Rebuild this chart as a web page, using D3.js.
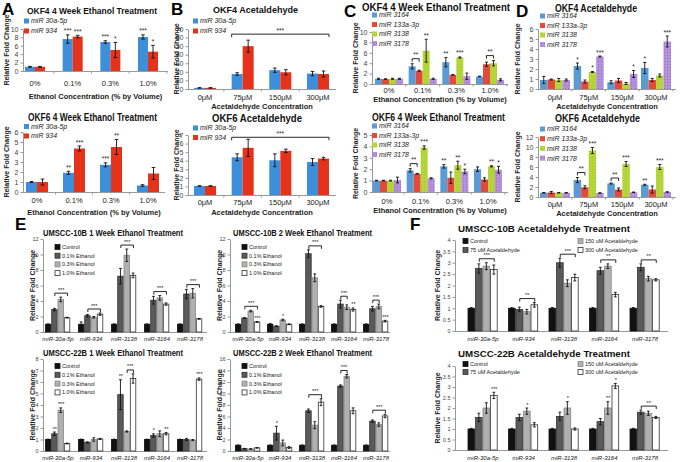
<!DOCTYPE html>
<html><head><meta charset="utf-8">
<script src="https://cdn.jsdelivr.net/npm/d3@7"></script>
<style>body{margin:0;background:#fff}svg{display:block;font-family:"Liberation Sans",Arial,sans-serif}</style>
</head><body><svg id="c" width="685" height="462"></svg>
<script>
// ---------- categories / labels ----------
const ethCats = ["0%","0.1%","0.3%","1.0%"];
const acetCats = ["0μM","75μM","150μM","300μM"];
const miRsAB = ["miR 30a-5p","miR 934"];
const miRsCD = ["miR 3164","miR 133a-3p","miR 3138","miR 3178"];
const miRsEF = ["miR-30a-5p","miR-934","miR-3138","miR-3164","miR-3178"];
const ethLegend = ["Control","0.1% Ethanol","0.3% Ethanol","1.0% Ethanol"];
const acetLegend = ["Control","75 uM Acetaldehyde","150 uM Acetaldehyde","300 uM Acetaldehyde"];

// ---------- A ----------
const okf4EthMean = [[1.0,7.6,6.9,8.1],[1.0,8.2,5.0,4.6]];
const okf4EthErr  = [[0.1,1.0,0.3,0.5],[0.1,0.3,1.8,1.5]];
const okf4EthStars = [[1,0,"***"],[1,1,"***"],[2,0,"***"],[2,1,"*"],[3,0,"***"],[3,1,"*"]];
const okf6EthMean = [[1.0,1.92,2.72,0.65],[1.0,4.35,4.5,1.85]];
const okf6EthErr  = [[0.05,0.15,0.2,0.08],[0.3,0.25,0.75,0.6]];
const okf6EthStars = [[1,0,"**"],[1,1,"***"],[2,0,"***"],[2,1,"**"]];
// ---------- B ----------
const okf4AcMean = [[1.3,17.5,22,18],[1.3,50,19.5,17.5]];
const okf4AcErr  = [[0.2,1.5,2.5,2.5],[0.2,7,3,3.5]];
const okf6AcMean = [[1.05,4.4,4.05,3.85],[1.05,5.5,5.15,4.25]];
const okf6AcErr  = [[0.03,0.4,0.75,0.4],[0.03,1.0,0.2,0.15]];
// ---------- C ----------
const okf4Eth4Mean = [[1.0,3.4,4.2,1.45],[0.95,2.55,1.75,3.8],[1.0,6.4,5.1,4.0],[1.0,1.0,1.5,0.8]];
const okf4Eth4Err  = [[0.1,0.5,0.9,0.05],[0.05,0.1,0.05,0.4],[0.1,2.2,0.1,0.5],[0.1,0.1,0.6,0.2]];
const okf4Eth4Stars = [[1,2,"**"],[2,0,"**"],[2,2,"***"]];
const okf4Eth4Br = [[1,0,1,1,"**"],[3,1,3,2,"**"]];
const okf6Eth4Mean = [[1.0,1.9,2.25,2.0],[1.0,1.6,1.25,1.1],[1.0,3.9,2.35,2.25],[1.05,1.2,1.8,1.95]];
const okf6Eth4Err  = [[0.03,0.15,0.15,0.2],[0.03,0.03,0.5,0.15],[0.03,0.15,0.35,0.05],[0.25,0.05,0.2,0.3]];
const okf6Eth4Stars = [[1,2,"***"],[2,0,"**"],[2,2,"**"],[2,3,"*"],[3,2,"**"],[3,3,"*"]];
const okf6Eth4Br = [[1,0,1,1,"**"]];
// ---------- D ----------
const okf4Ac4Mean = [[0.9,2.3,0.68,2.1],[0.95,0.75,0.85,0.9],[0.9,1.7,0.55,1.35],[0.9,3.25,1.5,4.75]];
const okf4Ac4Err  = [[0.35,0.3,0.15,0.55],[0.05,0.15,0.2,0.15],[0.15,0.05,0.1,0.15],[0.1,0.05,0.35,0.55]];
const okf4Ac4Stars = [[1,0,"*"],[1,2,"*"],[1,3,"***"],[2,3,"*"],[3,0,"*"],[3,3,"***"]];
const okf6Ac4Mean = [[0.85,3.4,2.7,2.45],[0.9,1.95,1.5,1.5],[0.85,9.3,6.6,6.0],[0.85,0.8,0.95,1.0]];
const okf6Ac4Err  = [[0.05,0.5,0.1,0.1],[0.2,0.3,0.3,0.7],[0.05,0.6,0.5,0.5],[0.05,0.05,0.05,0.05]];
const okf6Ac4Stars = [[1,2,"***"],[2,2,"***"],[3,0,"**"],[3,2,"***"]];
const okf6Ac4Br = [[1,0,1,1,"**"],[2,0,2,1,"**"]];
// ---------- E ----------
const u10b1Mean = [[1,1,1,1,1],[2.9,2.1,7.2,4.1,4.9],[4.2,1.9,9.9,4.4,5.0],[1.85,2.3,7.3,3.6,1.7]];
const u10b1Err  = [[0.05,0.3,0.05,0.05,0.05],[0.15,0.15,1.0,0.5,0.6],[0.3,0.1,0.8,0.3,0.6],[0.05,0.15,0.3,0.15,0.05]];
const u10b1Br = [[0,1,0,3,"***"],[1,1,1,3,"***"],[2,1,2,3,"***"],[3,1,3,3,"***"],[4,1,4,3,"***"]];
const u10b2Mean = [[1,1,1,1,1],[1.8,0.75,10.1,3.6,3.0],[2.7,1.55,7.0,3.2,3.3],[1.3,1.0,3.3,2.9,1.4]];
const u10b2Err  = [[0.05,0.1,0.05,0.05,0.05],[0.05,0.05,0.5,0.5,0.3],[0.1,0.1,0.5,0.3,0.3],[0.05,0.05,0.1,0.2,0.1]];
const u10b2Stars = [[0,3,"***"],[1,2,"*"],[3,3,"**"],[4,3,"***"]];
const u10b2Br = [[0,1,0,3,"***"],[2,1,2,3,"***"],[3,1,3,2,"***"],[4,1,4,2,"***"]];
const u22b1Mean = [[1,1,1,1,1],[1.5,0.75,4.9,1.35,1.0],[3.55,1.0,1.7,1.5,0.95],[0.65,1.05,6.3,1.5,6.25]];
const u22b1Err  = [[0.03,0.03,0.03,0.03,0.03],[0.15,0.05,1.3,0.15,0.1],[0.2,0.15,0.05,0.25,0.05],[0.03,0.05,0.4,0.1,0.1]];
const u22b1Stars = [[0,1,"**"],[0,2,"***"],[2,1,"**"],[3,1,"*"],[3,3,"**"],[4,3,"***"]];
const u22b1Br = [[2,2,2,3,"***"]];
const u22b2Mean = [[1,1,1,1,1],[0.4,3.1,7.0,11.3,5.2],[0.35,1.4,4.5,13.0,4.6],[0.55,0.6,8.5,7.0,6.1]];
const u22b2Err  = [[0.05,0.05,0.05,0.05,0.05],[0.05,1.2,0.3,0.2,0.2],[0.05,0.5,0.6,0.3,0.3],[0.05,0.15,0.6,0.5,0.3]];
const u22b2Stars = [[1,1,"*"]];
const u22b2Br = [[2,1,2,3,"***"],[3,1,3,2,"***"],[4,1,4,3,"***"]];
// ---------- F ----------
const u10bAcMean = [[1,1,1,1,1],[2.75,0.95,3.0,2.65,2.8],[2.85,0.85,2.1,2.85,2.3],[2.7,1.15,2.35,1.6,2.25]];
const u10bAcErr  = [[0.03,0.03,0.03,0.03,0.03],[0.2,0.1,0.2,0.15,0.15],[0.15,0.1,0.15,0.1,0.1],[0.2,0.1,0.15,0.1,0.05]];
const u10bAcBr = [[0,1,0,3,"***"],[1,1,1,3,"**"],[2,1,2,3,"***"],[3,1,3,3,"**"],[4,1,4,3,"**"]];
const u22bAcMean = [[1,1,1,1,1],[1.55,1.55,1.6,1.35,1.8],[2.0,1.85,2.0,2.0,1.75],[2.6,1.2,1.0,3.05,1.55]];
const u22bAcErr  = [[0.03,0.03,0.03,0.03,0.03],[0.2,0.15,0.2,0.15,0.1],[0.25,0.15,0.3,0.3,0.1],[0.15,0.1,0.05,0.12,0.05]];
const u22bAcStars = [[0,3,"***"],[1,2,"*"],[2,2,"*"],[3,2,"**"],[3,3,"*"]];
const u22bAcBr = [[4,1,4,3,"**"]];

// ---------- styles ----------
const svg = d3.select("#c");
const defs = svg.append("defs");
const pat = defs.append("pattern").attr("id","dotsP").attr("width",3).attr("height",3).attr("patternUnits","userSpaceOnUse");
pat.append("rect").attr("width",3).attr("height",3).attr("fill","#b590dc");
pat.append("circle").attr("cx",1.5).attr("cy",1.5).attr("r",0.5).attr("fill","#8a62b8");
const patG = defs.append("pattern").attr("id","dotsG").attr("width",3).attr("height",3).attr("patternUnits","userSpaceOnUse");
patG.append("rect").attr("width",3).attr("height",3).attr("fill","#b5d53a");
patG.append("circle").attr("cx",1.5).attr("cy",1.5).attr("r",0.45).attr("fill","#98b826");

const abColors = ["#3d8fd9","#e4321b"];
const cdColors = ["#5b9bd5","#e24a3b","url(#dotsG)","url(#dotsP)"];
const efColors = ["#111111","#5a5a5a","#b0b0b0","#ffffff"];
const efStrokes = ["#111","#333","#888","#333"];

function drawPanel(p){
  const g = svg.append("g");
  const n = p.cats.length, S = p.mean.length;
  const step = (p.cN - p.c0)/(n-1);
  const x = d3.scaleBand().domain(p.cats).range([p.c0-step/2, p.cN+step/2]);
  const xs = d3.scaleBand().domain(d3.range(S)).range([-S*p.barW/2, S*p.barW/2]);
  const y = d3.scaleLinear().domain([0,p.yMax]).range([p.yBot,p.yTop]);
  const bx = (gi,s)=> x(p.cats[gi]) + x.bandwidth()/2 + xs(s);
  const ya = g.append("g").attr("transform",`translate(${p.x0},0)`)
    .call(d3.axisLeft(y).tickValues(d3.range(0,p.yMax+1e-9,p.yStep)).tickSize(2.5).tickSizeOuter(0).tickPadding(2).tickFormat(d3.format("")));
  ya.select(".domain").attr("stroke","#999");
  ya.selectAll(".tick line").attr("stroke","#999");
  ya.selectAll("text").attr("font-size",p.tick).attr("fill","#444").attr("font-family","Liberation Sans, Arial, sans-serif");
  g.append("line").attr("x1",p.x0).attr("x2",p.x1).attr("y1",p.yBot+0.5).attr("y2",p.yBot+0.5).attr("stroke","#999");
  if(p.xTicks){
    const edges = p.cats.map(c=>x(c)).concat([x(p.cats[n-1])+x.bandwidth()]).filter(v=>v>p.x0+2 && v<p.x1);
    g.selectAll(null).data(edges).join("line").attr("x1",d=>d).attr("x2",d=>d)
      .attr("y1",p.yBot).attr("y2",p.yBot+2.5).attr("stroke","#999");
  }
  const xa = g.append("g").attr("transform",`translate(0,${p.yBot})`).call(d3.axisBottom(x).tickSize(0));
  xa.select(".domain").remove();
  xa.selectAll("text").attr("y",p.xLabY-p.yBot).attr("dy",null).attr("font-size",p.xLabSize)
    .attr("fill","#222").attr("font-style",p.xItalic?"italic":"normal").attr("font-family","Liberation Sans, Arial, sans-serif");
  p.mean.forEach((vals,s)=>{
    g.selectAll(null).data(vals).join("rect")
      .attr("x",(d,i)=>bx(i,s)).attr("width",xs.bandwidth()-(p.gap||0))
      .attr("y",d=>y(d)).attr("height",d=>p.yBot-y(d))
      .attr("fill",p.colors[s]).attr("stroke",p.strokes?p.strokes[s]:"none").attr("stroke-width",p.strokes?0.8:0);
    const eg = g.selectAll(null).data(vals.map((d,i)=>({d,e:p.err[s][i],i}))).join("g");
    const cx = o=>bx(o.i,s)+(xs.bandwidth()-(p.gap||0))/2;
    eg.append("line").attr("x1",cx).attr("x2",cx)
      .attr("y1",o=>y(o.d-o.e)).attr("y2",o=>y(o.d+o.e)).attr("stroke","#111").attr("stroke-width",0.9);
    [-1,1].forEach(k=>{
      eg.append("line").attr("x1",o=>cx(o)-p.cap).attr("x2",o=>cx(o)+p.cap)
        .attr("y1",o=>y(o.d+k*o.e)).attr("y2",o=>y(o.d+k*o.e)).attr("stroke","#111").attr("stroke-width",0.9);
    });
  });
  const top = (gi,s)=> y(p.mean[s][gi]+p.err[s][gi]);
  (p.stars||[]).forEach(([gi,s,t])=>{
    g.append("text").attr("x",bx(gi,s)+xs.bandwidth()/2).attr("y",top(gi,s)-1.5)
      .attr("text-anchor","middle").attr("font-size",p.starSize).attr("fill","#222").text(t);
  });
  (p.br||[]).forEach(([g0,s0,g1,s1,t])=>{
    let m = Infinity;
    for(let gi=g0; gi<=g1; gi++) for(let s=0;s<S;s++){
      if((gi>g0||s>=s0)&&(gi<g1||s<=s1)) m=Math.min(m,top(gi,s));
    }
    const by = m - (p.brOff||5);
    const xa0 = p.brWide? bx(g0,s0) : bx(g0,s0)+xs.bandwidth()/2;
    const xa1 = p.brWide? bx(g1,s1)+xs.bandwidth() : bx(g1,s1)+xs.bandwidth()/2;
    g.append("path").attr("d",`M${xa0},${by+3}V${by}H${xa1}V${by+3}`).attr("fill","none").attr("stroke","#111").attr("stroke-width",0.9);
    g.append("text").attr("x",(xa0+xa1)/2).attr("y",by-1.5).attr("text-anchor","middle").attr("font-size",p.starSize).attr("fill","#222").text(t);
  });
  g.append("text").attr("x",p.tx[0]).attr("y",p.ty).attr("textLength",p.tx[1]-p.tx[0]).attr("lengthAdjust","spacingAndGlyphs")
    .attr("font-size",p.tSize).attr("font-weight","bold").attr("fill","#111").text(p.title);
  g.append("text").attr("transform",`translate(${p.ytx},${(p.yTop+p.yBot)/2}) rotate(-90)`)
    .attr("text-anchor","middle").attr("font-size",p.ytSize).attr("font-weight","bold").attr("fill","#222").text("Relative Fold Change");
  if(p.xTitle) g.append("text").attr("x",(p.x0+p.x1)/2).attr("y",p.xtY).attr("text-anchor","middle")
    .attr("font-size",p.xtSize).attr("font-weight","bold").attr("fill","#222").text(p.xTitle);
  const L = p.leg;
  L.labels.forEach((lab,i)=>{
    const col = L.perCol? Math.floor(i/L.perCol):0, row = L.perCol? i%L.perCol : i;
    const lx = L.x + col*(L.colDx||0), ly = L.y + row*L.dy;
    g.append("rect").attr("x",lx).attr("y",ly-L.sq/2).attr("width",L.sq).attr("height",L.sq)
      .attr("fill",p.colors[i]).attr("stroke",p.strokes?p.strokes[i]:"none").attr("stroke-width",p.strokes?0.8:0);
    g.append("text").attr("x",lx+L.sq+2).attr("y",ly).attr("dy","0.35em").attr("font-size",L.size)
      .attr("font-style",L.italic?"italic":"normal").attr("fill","#222").text(lab);
  });
}

const common = {cap:1.8, starSize:6.5, xTicks:true, tick:7, xLabSize:7.5, ytSize:7, xtSize:7.5};
// A
drawPanel({...common, cats:ethCats, mean:okf4EthMean, err:okf4EthErr, stars:okf4EthStars, colors:abColors,
  x0:23,x1:168,yTop:29,yBot:71,yMax:10,yStep:2,c0:35,cN:148,barW:10, xLabY:86, title:"OKF4 4 Week Ethanol Treatment",
  tx:[27,157],ty:14,tSize:9.5, ytx:8.5, xTitle:"Ethanol Concentration (% by Volume)", xtY:99,
  leg:{x:24,y:21,dy:10,sq:5,size:7,italic:true,labels:miRsAB}});
drawPanel({...common, cats:ethCats, mean:okf6EthMean, err:okf6EthErr, stars:okf6EthStars, colors:abColors,
  x0:23,x1:165,yTop:132,yBot:192,yMax:6,yStep:1,c0:37,cN:148,barW:11, xLabY:203, title:"OKF6 4 Week Ethanol Treatment",
  tx:[28,157],ty:121,tSize:10.5, ytx:8.5, xTitle:"Ethanol Concentration (% by Volume)", xtY:215,
  leg:{x:24,y:126.5,dy:9.5,sq:5,size:7,italic:true,labels:miRsAB}});
// B
drawPanel({...common, cats:acetCats, mean:okf4AcMean, err:okf4AcErr, br:[[1,0,3,1,"***"]], brWide:true, brOff:6, colors:abColors,
  x0:188,x1:336,yTop:29,yBot:89,yMax:70,yStep:10,c0:205,cN:318,barW:11, xLabY:100, title:"OKF4 Acetaldehyde",
  tx:[213,298],ty:13,tSize:9.5, ytx:179, xTitle:"Acetaldehyde Concentration", xtY:109,
  leg:{x:193,y:21,dy:10,sq:5,size:7,italic:true,labels:miRsAB}});
drawPanel({...common, cats:acetCats, mean:okf6AcMean, err:okf6AcErr, br:[[1,0,3,1,"***"]], brWide:true, brOff:2, colors:abColors,
  x0:188,x1:336,yTop:135,yBot:195,yMax:7,yStep:1,c0:205,cN:318,barW:11, xLabY:205, title:"OKF6 Acetaldehyde",
  tx:[212,302],ty:122,tSize:10.5, ytx:179, xTitle:"Acetaldehyde Concentration", xtY:215,
  leg:{x:193,y:128,dy:9.5,sq:5,size:7,italic:true,labels:miRsAB}});
// C
drawPanel({...common, cats:ethCats, mean:okf4Eth4Mean, err:okf4Eth4Err, stars:okf4Eth4Stars, br:okf4Eth4Br, colors:cdColors, cap:1.5,
  x0:372,x1:508,yTop:32,yBot:84,yMax:10,yStep:2,c0:389,cN:490,barW:7, xLabY:93, title:"OKF4 4 Week Ethanol Treatment",
  tx:[362,510],ty:11,tSize:10, ytx:358, xTitle:"Ethanol Concentration (% by Volume)", xtY:102,
  leg:{x:372,y:15,dy:9.5,sq:5,size:7,italic:true,labels:miRsCD}});
drawPanel({...common, cats:ethCats, mean:okf6Eth4Mean, err:okf6Eth4Err, stars:okf6Eth4Stars, br:okf6Eth4Br, colors:cdColors, cap:1.5,
  x0:372,x1:508,yTop:135,yBot:192,yMax:5,yStep:1,c0:387,cN:488,barW:7, xLabY:204, title:"OKF6 4 Week Ethanol Treatment",
  tx:[372,505],ty:121,tSize:10, ytx:358, xTitle:"Ethanol Concentration (% by Volume)", xtY:213,
  leg:{x:372,y:126,dy:9.5,sq:5,size:7,italic:true,labels:miRsCD}});
// D
drawPanel({...common, cats:acetCats, mean:okf4Ac4Mean, err:okf4Ac4Err, stars:okf4Ac4Stars, colors:cdColors, cap:1.5,
  x0:538,x1:676,yTop:29,yBot:89,yMax:6,yStep:1,c0:555,cN:656,barW:7.5, xLabY:100, title:"OKF4 Acetaldehyde",
  tx:[555,637],ty:12,tSize:10, ytx:520, xTitle:"Acetaldehyde Concentration", xtY:109,
  leg:{x:540,y:16,dy:9.5,sq:5,size:7,italic:true,labels:miRsCD}});
drawPanel({...common, cats:acetCats, mean:okf6Ac4Mean, err:okf6Ac4Err, stars:okf6Ac4Stars, br:okf6Ac4Br, colors:cdColors, cap:1.5,
  x0:538,x1:676,yTop:137,yBot:197,yMax:12,yStep:2,c0:555,cN:656,barW:7.5, xLabY:207, title:"OKF6 Acetaldehyde",
  tx:[555,640],ty:122,tSize:10, ytx:520, xTitle:"Acetaldehyde Concentration", xtY:216,
  leg:{x:540,y:129,dy:9.7,sq:5,size:7,italic:true,labels:miRsCD}});
// E
const eCommon = {cap:1.4, starSize:5.5, xTicks:false, tick:5.5, xLabSize:6, xItalic:true, ytSize:7, strokes:efStrokes, colors:efColors, gap:0.8, brOff:4};
drawPanel({...eCommon, cats:miRsEF, mean:u10b1Mean, err:u10b1Err, br:u10b1Br,
  x0:43,x1:207,yTop:239,yBot:332,yMax:12,yStep:2,c0:58,cN:190,barW:6.3, xLabY:341, title:"UMSCC-10B 1 Week Ethanol Treatment",
  tx:[43,183],ty:236,tSize:9, ytx:35,
  leg:{x:55,y:247,dy:8.7,sq:5,size:5.5,labels:ethLegend}});
drawPanel({...eCommon, cats:miRsEF, mean:u10b2Mean, err:u10b2Err, stars:u10b2Stars, br:u10b2Br,
  x0:230,x1:390,yTop:239,yBot:332,yMax:12,yStep:2,c0:248,cN:376,barW:6.3, xLabY:341, title:"UMSCC-10B 2 Week Ethanol Treatment",
  tx:[233,372],ty:236,tSize:9, ytx:222,
  leg:{x:242,y:247,dy:8.7,sq:5,size:5.5,labels:ethLegend}});
drawPanel({...eCommon, cats:miRsEF, mean:u22b1Mean, err:u22b1Err, stars:u22b1Stars, br:u22b1Br,
  x0:43,x1:207,yTop:359,yBot:451,yMax:8,yStep:1,c0:58,cN:190,barW:6.3, xLabY:460, title:"UMSCC-22B 1 Week Ethanol Treatment",
  tx:[43,183],ty:356,tSize:9, ytx:35,
  leg:{x:55,y:366,dy:8.8,sq:5,size:5.5,labels:ethLegend}});
drawPanel({...eCommon, cats:miRsEF, mean:u22b2Mean, err:u22b2Err, stars:u22b2Stars, br:u22b2Br,
  x0:230,x1:390,yTop:359,yBot:451,yMax:16,yStep:2,c0:248,cN:376,barW:6.3, xLabY:460, title:"UMSCC-22B 2 Week Ethanol Treatment",
  tx:[233,372],ty:356,tSize:9, ytx:222,
  leg:{x:242,y:366,dy:8.8,sq:5,size:5.5,labels:ethLegend}});
// F
drawPanel({...eCommon, cats:miRsEF, mean:u10bAcMean, err:u10bAcErr, br:u10bAcBr, yStep:0.5,
  x0:455,x1:668,yTop:240,yBot:331,yMax:4,c0:483,cN:645,barW:7.5, xLabY:341, title:"UMSCC-10B Acetaldehyde Treatment",
  tx:[458,630],ty:232,tSize:9.5, ytx:440,
  leg:{x:463,y:241,dy:9,sq:5,size:5.5,labels:acetLegend,perCol:2,colDx:115}});
drawPanel({...eCommon, cats:miRsEF, mean:u22bAcMean, err:u22bAcErr, stars:u22bAcStars, br:u22bAcBr, yStep:0.5,
  x0:455,x1:668,yTop:366,yBot:450,yMax:4,c0:483,cN:645,barW:7.5, xLabY:460, title:"UMSCC-22B Acetaldehyde Treatment",
  tx:[458,630],ty:357,tSize:9.5, ytx:440,
  leg:{x:463,y:364,dy:8,sq:5,size:5.5,labels:acetLegend,perCol:2,colDx:115}});

// panel letters
[["A",2,15],["B",171,15],["C",344,17],["D",516,17],["E",15,230],["F",410,230]].forEach(([t,x,y])=>{
  svg.append("text").attr("x",x).attr("y",y).attr("font-size",17).attr("font-weight","bold").attr("fill","#000").text(t);
});
</script></body></html>
